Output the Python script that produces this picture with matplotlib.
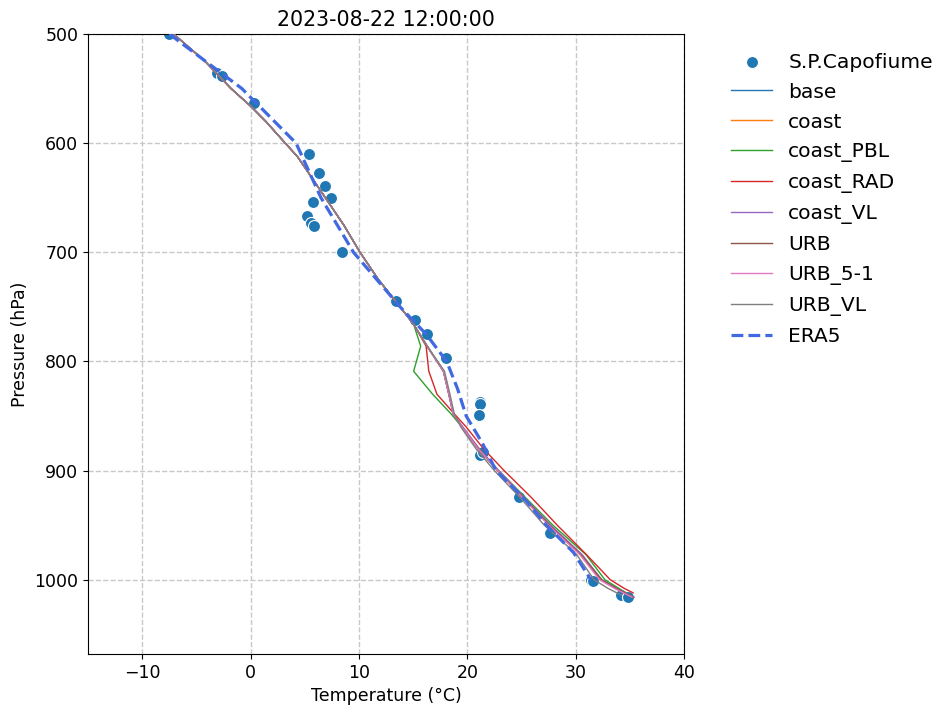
import matplotlib
matplotlib.use("Agg")
import matplotlib.pyplot as plt

# ---- observations (radiosonde S.P.Capofiume) ----
obs_T = [-7.5, -3.1, -2.6, 0.35, 5.4, 6.3, 6.9, 7.4, 5.8, 5.2, 5.6, 5.85, 8.4,
         13.4, 15.2, 16.3, 18.0, 21.2, 21.2, 21.05, 21.15, 21.45, 24.8, 27.6,
         31.4, 31.6, 34.15, 34.85]
obs_P = [500, 535.5, 538.5, 563, 610, 627, 639, 650, 654, 667, 673, 675.5, 700,
         745, 762, 775, 797, 837, 839, 849.5, 886, 883, 924, 957,
         1000.5, 1001, 1014, 1016]

# ---- model profiles ----
P_model = [500, 525, 550, 566, 580, 600, 612, 625, 650, 675, 700, 725, 750, 766,
           786, 809, 830, 848, 860, 880, 900, 925, 950, 977, 1000, 1008, 1016]
upper = [-7.1, -4.2, -1.8, 0.0, 1.4, 3.2, 4.3, 5.2, 6.9, 8.6, 10.1, 11.8, 13.8, 15.05]

T_base = upper + [16.3, 17.8, 18.3, 18.7, 19.5, 21.0, 22.8, 25.2, 27.6, 30.5, 32.4, 33.7, 35.3]
T_coast = upper + [16.3, 17.8, 18.3, 18.7, 19.5, 21.0, 22.8, 25.2, 27.6, 30.4, 32.3, 33.7, 35.3]
T_coast_PBL = upper + [15.7, 15.05, 16.8, 18.5, 19.5, 21.1, 22.9, 25.4, 27.9, 30.95, 32.7, 34.0, 35.3]
T_coast_RAD = upper + [16.2, 16.45, 17.2, 18.8, 19.9, 21.5, 23.4, 25.95, 28.3, 31.0, 33.2, 34.5, 35.3]
T_coast_VL = upper + [16.3, 17.8, 18.3, 18.7, 19.6, 21.1, 22.9, 25.3, 27.7, 30.6, 32.4, 33.8, 35.4]
T_URB = upper + [16.3, 17.8, 18.3, 18.7, 19.5, 21.0, 22.8, 25.2, 27.6, 30.5, 32.4, 33.8, 35.3]
T_URB_5_1 = upper + [16.3, 17.8, 18.3, 18.7, 19.5, 21.0, 22.8, 25.1, 27.5, 30.4, 32.2, 33.6, 35.2]
T_URB_VL = upper + [16.3, 17.9, 18.4, 18.8, 19.4, 20.8, 22.5, 24.9, 27.1, 30.1, 31.7, 33.0, 34.2]

model_names = ["base", "coast", "coast_PBL", "coast_RAD", "coast_VL", "URB", "URB_5-1", "URB_VL"]
model_T = [T_base, T_coast, T_coast_PBL, T_coast_RAD, T_coast_VL, T_URB, T_URB_5_1, T_URB_VL]
sfc_P = [1016, 1016, 1016, 1012, 1016, 1016, 1016, 1014]
model_colors = ["#1f77b4", "#ff7f0e", "#2ca02c", "#d62728", "#9467bd", "#8c564b", "#e377c2", "#7f7f7f"]

# ---- ERA5 ----
era5_P = [500, 550, 600, 650, 700, 750, 775, 800, 825, 850, 875, 900, 925, 950, 975, 1000]
era5_T = [-7.5, -0.8, 4.2, 6.5, 9.5, 13.8, 16.2, 18.1, 19.1, 19.9, 21.4, 22.65, 25.2, 27.3, 29.8, 31.4]

title = "2023-08-22 12:00:00"

fig = plt.figure(figsize=(9.36, 7.08), dpi=100)
ax = fig.add_axes([0.094, 0.0763, 0.6368, 0.8757])

ax.scatter(obs_T, obs_P, s=75, color="#1f77b4", edgecolor="white", linewidth=0.8,
           label="S.P.Capofiume", zorder=2)
for name, T, ps, c in zip(model_names, model_T, sfc_P, model_colors):
    P = P_model[:-1] + [ps]
    ax.plot(T, P, color=c, lw=1.0, label=name, zorder=3)
ax.plot(era5_T, era5_P, color="royalblue", lw=2.3, ls="--", label="ERA5", zorder=4)

ax.set_xlim(-15, 40)
ax.set_ylim(1068, 500)
ax.set_xticks([-10, 0, 10, 20, 30, 40])
ax.set_yticks([500, 600, 700, 800, 900, 1000])
ax.tick_params(labelsize=12.5)
ax.grid(True, ls="--", color="#c8c8c8", lw=1.0)
ax.set_axisbelow(True)
ax.set_xlabel("Temperature (°C)", fontsize=12.5)
ax.set_ylabel("Pressure (hPa)", fontsize=12.5)
ax.set_title(title, fontsize=14.8)

ax.legend(loc="upper left", bbox_to_anchor=(1.066, 0.983), frameon=False,
          fontsize=14.6, handlelength=2.0, borderaxespad=0, labelspacing=0.54)

fig.savefig("out.png", dpi=100)
